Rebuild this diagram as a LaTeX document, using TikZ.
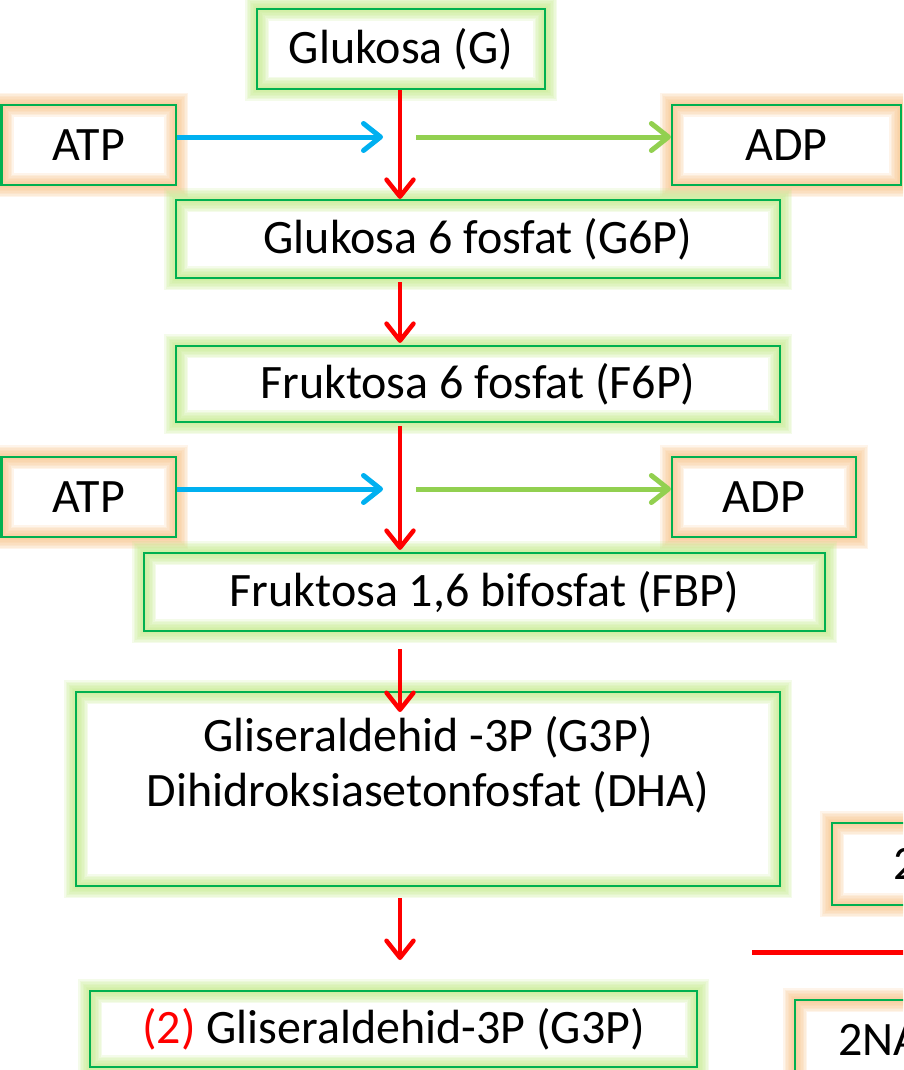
\documentclass[tikz,border=0pt]{standalone}
\usepackage{fontspec}
\setmainfont{Carlito}
\usetikzlibrary{arrows.meta,calc}
\definecolor{bordergreen}{RGB}{0,176,80}
\definecolor{glowgreen}{RGB}{196,234,140}
\definecolor{gloworange}{RGB}{247,196,140}
\definecolor{arrowred}{RGB}{255,0,0}
\definecolor{arrowblue}{RGB}{0,176,240}
\definecolor{arrowgreen}{RGB}{146,208,80}
\begin{document}
\begin{tikzpicture}[x=1pt,y=-1pt,
  glow/.style={preaction={draw=#1,line width=24pt,opacity=0.18},
               preaction={draw=#1,line width=21pt,opacity=0.18},
               preaction={draw=#1,line width=18pt,opacity=0.18},
               preaction={draw=#1,line width=15pt,opacity=0.18},
               preaction={draw=#1,line width=12pt,opacity=0.18},
               preaction={draw=#1,line width=9pt,opacity=0.18},
               preaction={draw=#1,line width=6pt,opacity=0.18},
               preaction={draw=#1,line width=3pt,opacity=0.18}},
  bigtext/.style={font=\fontsize{48}{55}\selectfont},
  box/.style={draw=bordergreen,line width=2.2pt,inner sep=0pt,bigtext,align=center},
  gbox/.style={box,glow=glowgreen},
  obox/.style={box,glow=gloworange},
  txt/.style={inner sep=0pt,bigtext,align=center},
  tip/.style={-{Straight Barb[length=17pt,width=27pt,round]}},
  redarrow/.style={draw=arrowred,line width=4.5pt,tip},
  bluearrow/.style={draw=arrowblue,line width=5pt,tip},
  greenarrow/.style={draw=arrowgreen,line width=5pt,tip},
  redline/.style={draw=arrowred,line width=5.5pt}]
\useasboundingbox (0,0) rectangle (903,1070);
\clip (0,0) rectangle (903,1070);

% boxes
\node[gbox,minimum width=288pt,minimum height=80pt] (glc) at (401,49) {Glukosa (G)};
\node[obox,minimum width=174.5pt,minimum height=80pt] (atp1) at (88.75,145) {ATP};
\node[obox,minimum width=229pt,minimum height=80pt] (adp1) at (786.5,145) {ADP};
\node[gbox,minimum width=604pt,minimum height=78pt] (g6p) at (478,239) {Glukosa 6 fosfat (G6P)};
\node[gbox,minimum width=604pt,minimum height=76pt] (f6p) at (478,384) {Fruktosa 6 fosfat (F6P)};
\node[obox,minimum width=174.5pt,minimum height=80pt] (atp2) at (88.75,497) {ATP};
\node[obox,minimum width=184pt,minimum height=80pt] (adp2) at (764,497) {ADP};
\node[gbox,minimum width=681pt,minimum height=78pt] (fbp) at (484.5,592) {Fruktosa 1,6 bifosfat (FBP)};
\node[gbox,minimum width=704pt,minimum height=194pt] (g3p) at (428,789) {};
\node[txt] (g3ptext) at (428,765) {Gliseraldehid -3P (G3P)\\Dihidroksiasetonfosfat (DHA)};
\node[gbox,minimum width=607pt,minimum height=76pt] (bot) at (393.5,1029) {\textcolor{arrowred}{(2)} Gliseraldehid-3P (G3P)};
\node[obox,minimum width=200pt,minimum height=82pt] (r2box) at (932,864) {};
\node[txt,anchor=west] (r2text) at (893,864) {2};
\node[obox,minimum width=200pt,minimum height=100pt] (nabox) at (895,1050) {};
\node[txt,anchor=west] (natext) at (838,1040) {2NA};

% free ends
\coordinate (b1e) at (383,137);
\coordinate (g1s) at (416,137);
\coordinate (b2e) at (383,489);
\coordinate (g2s) at (416,489);
\coordinate (r4s) at (400,649);
\coordinate (r4e) at (400,712);
\coordinate (r5s) at (400,898);
\coordinate (r5e) at (400,960);
\coordinate (ls) at (752,952.5);
\coordinate (le) at (905,952.5);

% connectors
\draw[redarrow] (glc.south -| 400,0) -- (g6p.north -| 400,0);
\draw[redarrow,shorten <=3pt,shorten >=2pt] (g6p.south -| 400,0) -- (f6p.north -| 400,0);
\draw[redarrow,shorten <=3pt,shorten >=2pt] (f6p.south -| 400,0) -- (fbp.north -| 400,0);
\draw[redarrow] (r4s) -- (r4e);
\draw[redarrow] (r5s) -- (r5e);
\draw[bluearrow] ($(atp1.east)+(0,-8)$) -- (b1e);
\draw[greenarrow] (g1s) -- (adp1.west |- g1s);
\draw[bluearrow] ($(atp2.east)+(0,-8)$) -- (b2e);
\draw[greenarrow] (g2s) -- (adp2.west |- g2s);
\draw[redline] (ls) -- (le);
\end{tikzpicture}
\end{document}
